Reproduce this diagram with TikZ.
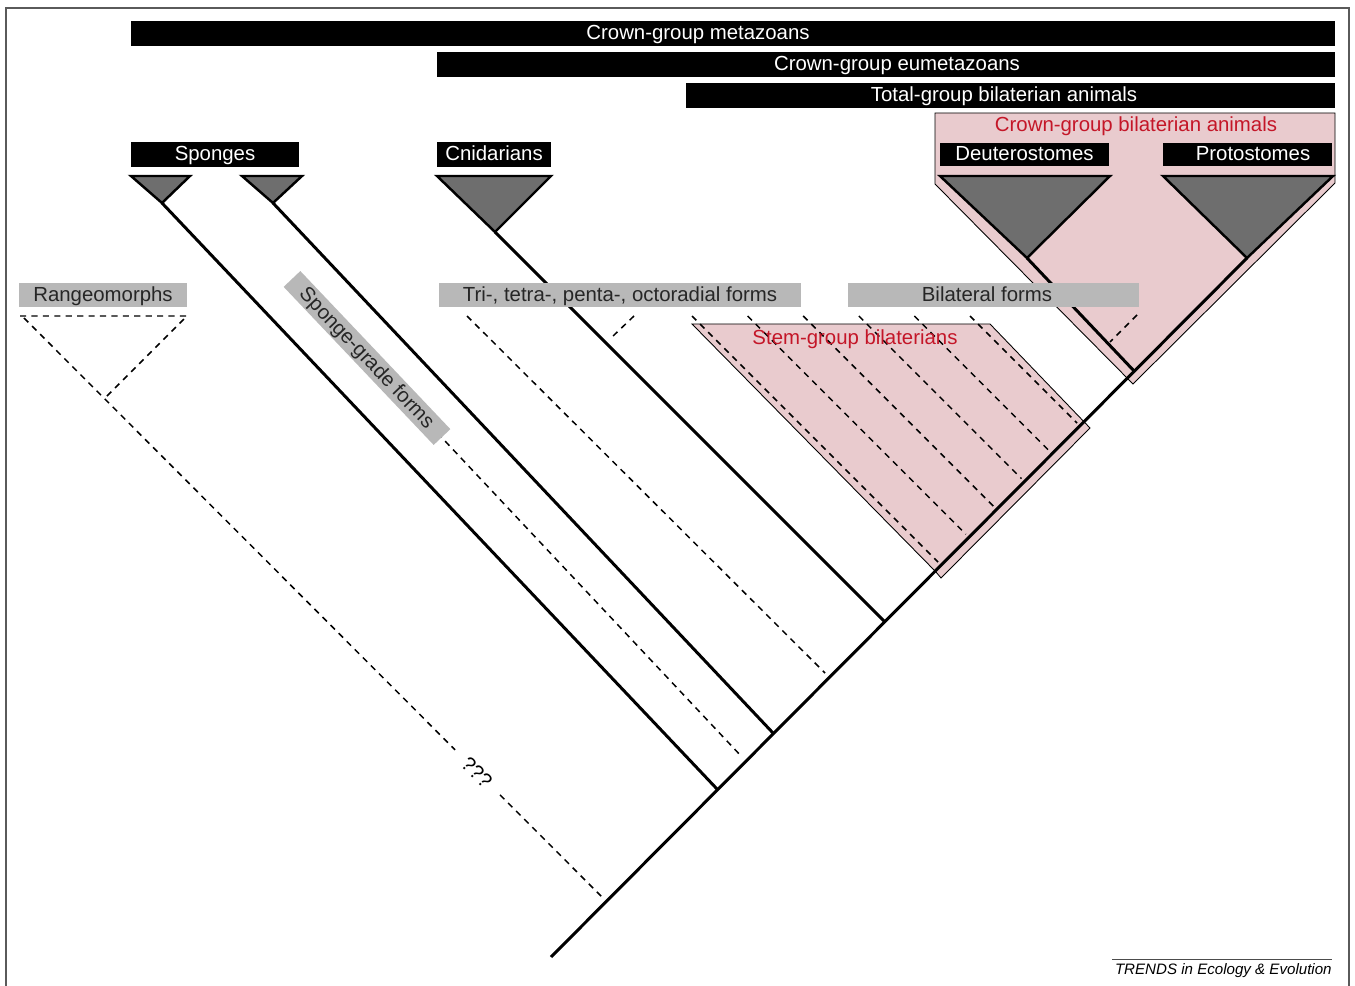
\documentclass[tikz,border=0pt]{standalone}
\usepackage{fontspec}
\setmainfont{Liberation Sans}
\definecolor{bilpink}{RGB}{233,203,206}
\definecolor{bilred}{RGB}{196,22,40}
\definecolor{formgray}{RGB}{184,184,184}
\definecolor{cladegray}{RGB}{110,110,110}
\definecolor{framegray}{RGB}{90,90,90}
\begin{document}
\begin{tikzpicture}[x=0.02cm,y=-0.02cm,font=\fontsize{11.6}{13}\selectfont,
  branch/.style={line width=1.7pt},
  ghost/.style={line width=0.85pt,dash pattern=on 3.5pt off 3pt},
  blackbar/.style={fill=black,text=white,inner sep=0pt,minimum height=0.5cm,text height=0.9em,text depth=0.18em},
  formbox/.style={fill=formgray,text=black!85,inner sep=0pt,minimum height=0.48cm,text height=0.9em,text depth=0.18em},
  clade/.style={fill=cladegray,draw=black,line width=1.4pt},
  pinkzone/.style={fill=bilpink,draw=black,line width=0.5pt}]
\useasboundingbox (0,0) rectangle (1355,986);
\draw[framegray,line width=1.2pt](6,995)--(6,8)--(1349,8)--(1349,995);

\draw[pinkzone](935,113)--(1335,113)--(1335,183)--(1133,384)--(935,184)--cycle;
\draw[pinkzone](692,324)--(990,324)--(1090,428)--(941,578)--(936,572)--cycle;

\coordinate (root) at (551,957);
\coordinate (nRan) at (603,898);
\coordinate (nSp1) at (717,789);
\coordinate (nSp2) at (773,733);
\coordinate (nCni) at (885,622);
\coordinate (nDeu) at (1135,372);
\coordinate (sp1) at (162,203);
\coordinate (sp2) at (273,203);
\coordinate (cni) at (495,232);
\coordinate (deu) at (1027,258);
\coordinate (pro) at (1247,258);

% dashed forms
\coordinate (ranL) at (24,318);
\coordinate (ranR) at (187,316);
\coordinate (ranJ) at (105,398);
\draw[ghost](20,316)--(ranR)--(ranJ);
\draw[ghost](ranL)--(nRan);
\node[fill=white,rotate=-45,inner xsep=8pt,inner ysep=1pt] (qqq) at (477,772) {???};
\draw[ghost](367,358)--(742,757);
\draw[ghost](467,316)--(825,673);
\draw[ghost](634,316)--(612,337);
\draw[ghost](1137,315)--(1110,342);
\foreach \x in {692,747.6,803.2,858.8,914.4,970}
  \draw[ghost](\x,316)--({(1184+\x)/2},{(1816-\x)/2});

\draw[branch](root)--(pro);
\draw[branch](sp1)--(nSp1);
\draw[branch](sp2)--(nSp2);
\draw[branch](cni)--(nCni);
\draw[branch](deu)--(nDeu);

\draw[clade](131,176)--(190,176)--(sp1)--cycle;
\draw[clade](242,176)--(302,176)--(sp2)--cycle;
\draw[clade](437,176)--(551,176)--(cni)--cycle;
\draw[clade](940,176)--(1110,176)--(deu)--cycle;
\draw[clade](1163,176)--(1333,176)--(pro)--cycle;

\node[blackbar,minimum width=24.08cm] (metazoa) at (733,33.5) {Crown-group metazoans\kern1.4cm};
\node[blackbar,minimum width=17.96cm] (eumetazoa) at (886,64.5) {\kern0.44cm Crown-group eumetazoans};
\node[blackbar,minimum width=12.98cm] (totalbil) at (1010.5,95.5) {Total-group bilaterian animals\kern0.26cm};
\node[blackbar,minimum width=3.36cm] (sponges) at (215,154.5) {Sponges};
\node[blackbar,minimum width=2.28cm] (cnidaria) at (494,154.5) {Cnidarians};
\node[blackbar,minimum width=3.38cm,minimum height=0.46cm] (deutero) at (1024.5,154.5) {Deuterostomes};
\node[blackbar,minimum width=3.38cm,minimum height=0.46cm] (proto) at (1247.5,154.5) {\kern0.22cm Protostomes};
\node[text=bilred] (crownbil) at (1136,126) {Crown-group bilaterian animals};

\node[formbox,minimum width=3.36cm] (rangeo) at (103,295) {Rangeomorphs};
\node[formbox,minimum width=7.24cm] (radial) at (620,295) {Tri-, tetra-, penta-, octoradial forms};
\node[formbox,minimum width=5.82cm] (bilat) at (993.5,295) {Bilateral forms\kern0.26cm};
\node[formbox,rotate=-46.5,minimum width=4.36cm,minimum height=0.46cm] (spgrade) at (367,358) {Sponge-grade forms};
\node[text=bilred] (stembil) at (855,339) {Stem-group bilaterians};

\draw[black!70,line width=0.5pt](1112,959)--(1332,959);
\node[anchor=north east,inner sep=0pt,font=\fontsize{8.6}{10}\selectfont\itshape] (trends) at (1332,963) {TRENDS in Ecology \& Evolution};
\end{tikzpicture}
\end{document}
